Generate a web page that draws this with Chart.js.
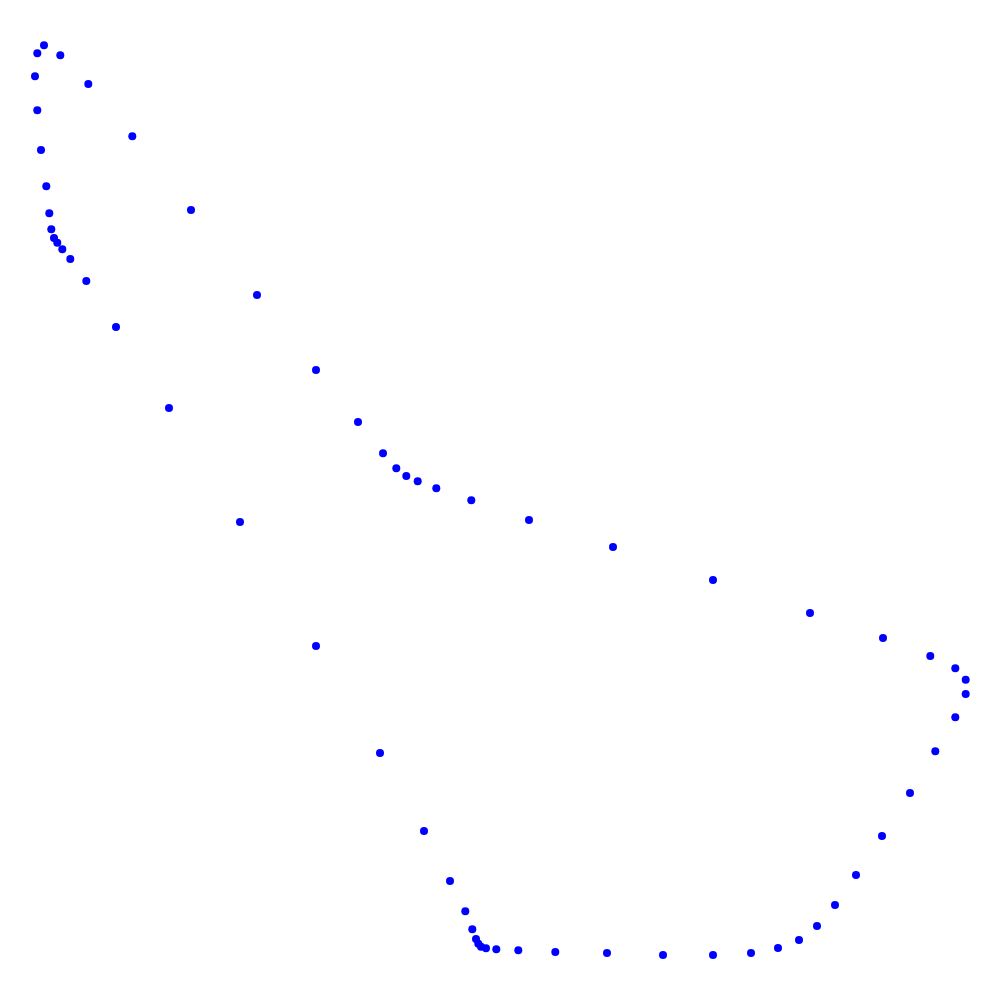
<!DOCTYPE html>
<html>
<head>
<meta charset="utf-8">
<script src="https://cdn.jsdelivr.net/npm/chart.js@4/dist/chart.umd.min.js"></script>
<style>
html,body{margin:0;padding:0;background:#fff;}
#wrap{width:1000px;height:1000px;}
</style>
</head>
<body>
<div id="wrap"><canvas id="c" width="1000" height="1000"></canvas></div>
<script>
const xValues = [44,37.3,60.3,35,88.3,37.3,132.3,41,46.3,191,49.3,51.3,54,57.3,62.3,70.3,86.3,257,116,316,169,358,383,396.3,406.3,417.7,436.3,471.3,529,240,613,713,810,883,316,930.3,955.3,965.7,965.7,955.3,935.3,380,910,424,882,856,450,835,465.3,817,472.3,476,799,478.3,481,486,496.3,518.3,778,555.3,607,751,663,713];
const yValues = [45.3,53.3,55.3,76.3,84,110.3,136.3,150,186.3,210,213.3,229.3,238,242.7,249.3,259,281,295,327,370,408,422,453.3,468.3,476,481.3,488.3,500.3,520,522,547,580,613,638,646,656,668.3,679.7,694,717.3,751.3,753,793,831,836,875,881,905,911.3,926,929.3,939,940,943.7,946.7,948.3,949.3,950.3,948,952,953,953,955,955];
const points = xValues.map((x,i)=>({x:x,y:yValues[i]}));
new Chart(document.getElementById('c'),{
  type:'scatter',
  data:{datasets:[{data:points,backgroundColor:'#0000ff',borderWidth:0,pointRadius:4,pointHoverRadius:4,clip:false}]},
  options:{
    responsive:false,animation:false,
    layout:{padding:0,autoPadding:false},
    plugins:{legend:{display:false},tooltip:{enabled:false}},
    scales:{
      x:{type:'linear',min:0,max:1000,display:false},
      y:{type:'linear',min:0,max:1000,reverse:true,display:false}
    }
  }
});
</script>
</body>
</html>
